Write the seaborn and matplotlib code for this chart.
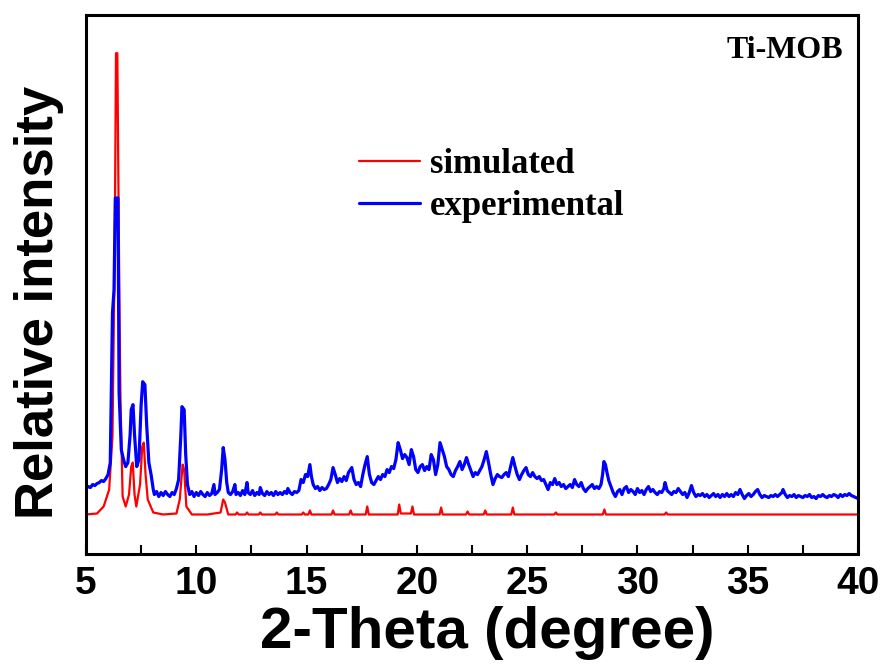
import pandas as pd
import matplotlib
matplotlib.use('Agg')
import matplotlib.pyplot as plt
import seaborn as sns

# simulated pattern (2-theta vs. relative intensity)
sim_x = [5.0, 5.5, 5.8, 6.05, 6.2, 6.3, 6.36, 6.42, 6.5, 6.56, 6.66, 6.8, 6.95, 7.05, 7.12, 7.2,
         7.28, 7.45, 7.55, 7.62, 7.7, 7.8, 8.05, 8.5, 9.1, 9.25, 9.38, 9.45, 9.55, 9.8, 10.5,
         11.1, 11.22, 11.3, 11.45,
         11.78, 11.85, 11.92, 12.23, 12.3, 12.37, 12.83, 12.9, 12.97, 13.58, 13.65, 13.72,
         14.78, 14.85, 14.92, 15.08, 15.15, 15.22, 16.13, 16.2, 16.27, 16.93, 17.0, 17.07,
         17.68, 17.75, 17.82, 19.13, 19.2, 19.27, 19.73, 19.8, 19.87, 21.03, 21.1, 21.17,
         22.23, 22.3, 22.37, 23.03, 23.1, 23.17, 24.28, 24.35, 24.42, 26.23, 26.3, 26.37,
         28.43, 28.5, 28.57, 31.23, 31.3, 31.37, 35.0, 40.0]
sim_y = [40, 41, 48, 65, 118, 300, 502, 502, 290, 160, 58, 48, 60, 88, 92, 60,
         48, 70, 108, 112, 80, 55, 42, 40, 41, 55, 90, 85, 48, 40, 40,
         42, 55, 52, 40,
         40, 42, 40, 40, 42, 40, 40, 42, 40, 40, 42, 40,
         40, 42, 40, 40, 44, 40, 40, 44, 40, 40, 44, 40,
         40, 48, 40, 40, 50, 41, 41, 48, 40, 40, 47, 40,
         40, 43, 40, 40, 44, 40, 40, 47, 40, 40, 42, 40,
         40, 45, 40, 40, 42, 40, 40, 40]

# experimental pattern
exp_x = [5.0, 5.1, 5.2, 5.3, 5.4, 5.5, 5.6, 5.7, 5.8, 5.9, 6.0, 6.1,
         6.2, 6.27, 6.33, 6.45, 6.5, 6.6, 6.7, 6.8, 6.9, 7.0, 7.05, 7.13, 7.2, 7.3, 7.4, 7.5,
         7.57, 7.67, 7.75, 7.85, 7.95, 8.05,
         8.1, 8.2, 8.3, 8.4, 8.5, 8.6, 8.7, 8.8, 8.9, 9.0, 9.1, 9.2,
         9.3, 9.35, 9.45, 9.52, 9.6, 9.7,
         9.8, 9.9, 10.0, 10.1, 10.2, 10.3, 10.4, 10.5, 10.6, 10.7, 10.8, 10.85, 10.95, 11.05,
         11.15, 11.22, 11.3, 11.38, 11.45,
         11.55, 11.65, 11.75, 11.8, 11.9, 12.0, 12.1, 12.2, 12.3, 12.35, 12.45, 12.55, 12.65,
         12.75, 12.85, 12.9, 13.0, 13.1, 13.2, 13.3, 13.4, 13.5, 13.6, 13.7, 13.8, 13.9, 14.0,
         14.1, 14.15, 14.25, 14.35, 14.45, 14.55, 14.65,
         14.75, 14.85, 14.95, 15.05, 15.15, 15.22, 15.3, 15.4, 15.5, 15.6, 15.7, 15.8, 15.9,
         16.0, 16.1, 16.2, 16.3, 16.4, 16.5, 16.6, 16.7, 16.8, 16.9, 17.05, 17.15, 17.25,
         17.35, 17.45, 17.55, 17.65, 17.75, 17.85, 17.95, 18.05, 18.15, 18.25, 18.35, 18.45,
         18.55, 18.65, 18.75, 18.85, 18.95, 19.05, 19.15, 19.25, 19.35, 19.45, 19.55, 19.65,
         19.75, 19.85, 19.95, 20.05, 20.15, 20.25, 20.35, 20.45, 20.55, 20.65, 20.75, 20.85,
         20.95, 21.05, 21.15, 21.25, 21.35, 21.45, 21.55, 21.65, 21.75, 21.85, 21.95, 22.05,
         22.15, 22.25, 22.35, 22.45, 22.55, 22.65, 22.75, 22.85, 22.95, 23.05, 23.15, 23.25,
         23.35, 23.45, 23.55, 23.65, 23.75, 23.85, 23.95, 24.05, 24.15, 24.25, 24.35, 24.45,
         24.55, 24.65, 24.75, 24.85, 24.95, 25.05, 25.15, 25.25, 25.35, 25.45, 25.55, 25.65,
         25.75, 25.85, 25.95,
         26.05, 26.15, 26.25, 26.35, 26.45, 26.55, 26.65, 26.75, 26.85, 26.95, 27.05, 27.15,
         27.25, 27.35, 27.45, 27.55, 27.65, 27.75, 27.85, 27.95, 28.05, 28.15, 28.25, 28.35,
         28.42, 28.48, 28.55, 28.62, 28.7, 28.8, 28.9,
         29.0, 29.1, 29.2, 29.3, 29.4, 29.5, 29.6, 29.7, 29.8, 29.9, 30.0, 30.1, 30.2, 30.3,
         30.4, 30.5, 30.6, 30.7, 30.8, 30.9, 31.0, 31.1, 31.2, 31.25, 31.35, 31.45, 31.55,
         31.65, 31.75, 31.85, 31.95, 32.05, 32.15, 32.25, 32.35, 32.45, 32.55, 32.65, 32.75,
         32.85, 32.95, 33.05, 33.15, 33.25, 33.35, 33.45, 33.55, 33.65, 33.75, 33.85, 33.95,
         34.05, 34.15, 34.25, 34.35, 34.45, 34.55, 34.65, 34.75, 34.85, 34.95,
         35.05, 35.15, 35.25, 35.35, 35.45, 35.55, 35.65, 35.75, 35.85, 35.95, 36.05, 36.15,
         36.25, 36.35, 36.45, 36.55, 36.6, 36.7, 36.8, 36.9, 37.0, 37.1, 37.2, 37.3, 37.4,
         37.5, 37.6, 37.7, 37.8, 37.9, 38.0, 38.1, 38.2, 38.3, 38.4, 38.5, 38.6, 38.7, 38.8,
         38.9, 39.0, 39.1, 39.2, 39.3, 39.4, 39.5, 39.6, 39.7, 39.8, 39.9, 40.0]
exp_y = [66, 68, 67, 70, 69, 71, 72, 74, 73, 76, 80, 92,
         242, 265, 357, 357, 162, 105, 95, 88, 92, 120, 145, 150, 120, 88, 95, 150,
         173, 170, 130, 92, 80, 65,
         60, 63, 58, 62, 59, 63, 60, 58, 62, 60, 66, 75,
         120, 148, 145, 100, 70, 60,
         63, 58, 62, 59, 63, 60, 58, 62, 59, 61, 70, 60, 62, 65,
         85, 107, 95, 72, 62,
         60, 63, 70, 60, 62, 59, 64, 60, 72, 62, 60, 64, 59,
         62, 60, 67, 61, 59, 63, 60, 62, 59, 63, 60, 62, 60, 63,
         61, 66, 62, 60, 63, 62, 64,
         75, 72, 80, 78, 90, 78, 70, 66, 68, 64, 67, 65, 66,
         70, 75, 87, 80, 72, 76, 73, 78, 74, 82, 87, 75, 70,
         72, 68, 80, 90, 98, 80, 72, 70, 74, 78, 75, 80,
         78, 85, 82, 88, 86, 95, 112, 105, 96, 100, 97, 90,
         105, 98, 85, 82, 88, 90, 84, 88, 85, 100, 95, 80,
         90, 112, 105, 98, 88, 85, 80, 78, 84, 88, 93, 85,
         90, 97, 90, 84, 78, 82, 80, 84, 88, 95, 103, 92,
         80, 70, 76, 80, 78, 77, 80, 82, 78, 88, 97, 88,
         80, 75, 80, 84, 87, 80, 78, 82, 78, 76, 78, 74,
         75, 70, 65,
         72, 70, 76, 70, 72, 68, 70, 66, 68, 70, 67, 75,
         70, 68, 72, 66, 63, 66, 68, 70, 66, 68, 66, 70,
         80, 93, 90, 82, 74, 68, 62,
         58, 63, 65, 60, 66, 68, 62, 65, 63, 60, 66, 62, 64, 60,
         65, 68, 63, 65, 62, 60, 63, 62, 66, 72, 64, 62, 60,
         63, 62, 66, 63, 60, 62, 57, 62, 69, 62, 58, 60,
         59, 61, 58, 60, 57, 59, 61, 58, 60, 57, 60, 58,
         61, 58, 60, 58, 62, 60, 65, 60, 56, 59,
         61, 58, 60, 63, 65, 60, 57, 59, 58, 57, 59, 58,
         60, 58, 60, 62, 65, 60, 57, 59, 58, 60, 57, 59, 58,
         57, 59, 58, 60, 57, 58, 56, 59, 58, 60, 58, 57, 59, 58,
         60, 59, 57, 60, 58, 60, 59, 61, 59, 58, 57, 56]

sim = pd.DataFrame({'2theta': sim_x, 'intensity': sim_y})
exp = pd.DataFrame({'2theta': exp_x, 'intensity': exp_y})

sns.set_style('ticks')
plt.rcParams['font.family'] = ['Liberation Sans', 'DejaVu Sans']
plt.rcParams['font.weight'] = 'bold'
plt.rcParams['text.color'] = 'black'
plt.rcParams['axes.labelcolor'] = 'black'

fig = plt.figure(figsize=(8.83, 6.64), dpi=100)
ax = fig.add_axes([0.0974, 0.165, 0.8743, 0.812])

sns.lineplot(data=sim, x='2theta', y='intensity', color='#ff0000', linewidth=1.6,
             label='simulated', ax=ax)
sns.lineplot(data=exp, x='2theta', y='intensity', color='#0000ff', linewidth=2.3,
             label='experimental', ax=ax)

ax.set_xlim(5, 40)
ax.set_ylim(0, 540)
ax.set_xticks([5, 10, 15, 20, 25, 30, 35, 40])
ax.set_xticks([7.5, 12.5, 17.5, 22.5, 27.5, 32.5, 37.5], minor=True)
ax.set_yticks([])
ax.tick_params(axis='x', which='both', direction='in', length=6.5, width=1.5,
               labelsize=28, pad=8, color='black', labelcolor='black')
for lab in ax.get_xticklabels():
    lab.set_fontweight('bold')
for sp in ax.spines.values():
    sp.set_visible(True)
    sp.set_linewidth(2.2)
    sp.set_color('black')

ax.set_xlabel('2-Theta (degree)', fontsize=42, fontweight='bold')
ax.xaxis.set_label_coords(0.52, -0.096)
ax.set_ylabel('Relative intensity', fontsize=38, fontweight='bold')
ax.yaxis.set_label_coords(-0.028, 0.468)

ax.text(0.981, 0.92, 'Ti-MOB', transform=ax.transAxes, ha='right', va='baseline',
        fontsize=23, fontweight='bold', family=['Liberation Serif', 'DejaVu Serif'])

ax.legend(loc='center left', bbox_to_anchor=(0.313, 0.684), frameon=False,
          prop={'family': ['Liberation Serif', 'DejaVu Serif'], 'weight': 'bold', 'size': 25},
          handlelength=1.75, handletextpad=0.3, labelspacing=0.24)

fig.savefig('out.png', dpi=100)
